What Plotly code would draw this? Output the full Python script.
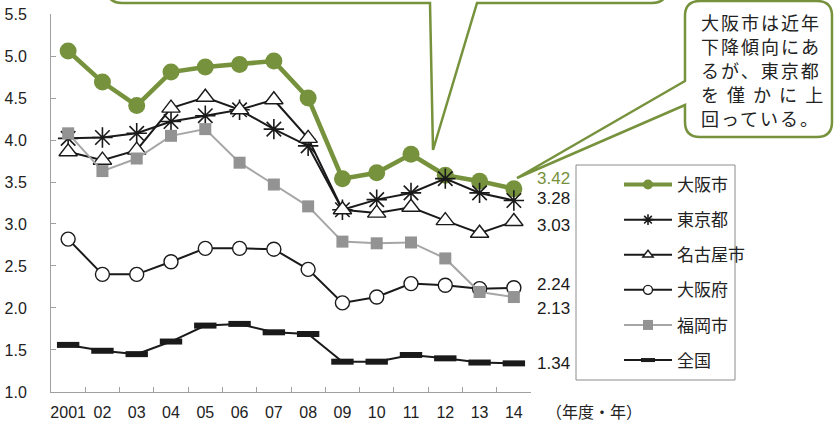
import plotly.graph_objects as go

# Categories (fiscal year / calendar year)
years = ["2001", "02", "03", "04", "05", "06", "07", "08", "09", "10", "11", "12", "13", "14"]

# Series values
osaka_city = [5.06, 4.69, 4.41, 4.81, 4.87, 4.90, 4.94, 4.50, 3.54, 3.61, 3.83, 3.58, 3.51, 3.42]
tokyo = [4.02, 4.03, 4.08, 4.22, 4.29, 4.36, 4.13, 3.93, 3.17, 3.29, 3.37, 3.54, 3.37, 3.28]
nagoya = [3.86, 3.76, 3.88, 4.38, 4.51, 4.36, 4.48, 4.02, 3.17, 3.13, 3.20, 3.04, 2.89, 3.03]
osaka_pref = [2.82, 2.40, 2.40, 2.55, 2.71, 2.71, 2.70, 2.46, 2.06, 2.13, 2.29, 2.27, 2.23, 2.24]
fukuoka = [4.08, 3.63, 3.78, 4.05, 4.13, 3.73, 3.47, 3.21, 2.79, 2.77, 2.78, 2.59, 2.19, 2.13]
national = [1.56, 1.49, 1.45, 1.60, 1.79, 1.81, 1.71, 1.69, 1.36, 1.36, 1.44, 1.40, 1.35, 1.34]

names = ["大阪市", "東京都", "名古屋市", "大阪府", "福岡市", "全国"]
y_ticks = [1.0, 1.5, 2.0, 2.5, 3.0, 3.5, 4.0, 4.5, 5.0, 5.5]

callout_lines = ["大阪市は近年", "下降傾向にあ", "るが、東京都", "を 僅 か に 上", "回っている。"]

GREEN = "#76923C"
BLACK = "#1A1A1A"
GRAY_LINE = "#A6A6A6"
GRAY_MARK = "#939393"
AXIS = "#A0A0A0"
TEXT = "#222222"
NUM_FONT = "Liberation Sans, Arial, sans-serif"
CJK_FONT = "Noto Sans CJK JP, sans-serif"

W, H = 834, 423
ML, MR, MT, MB = 51, 303, 14, 31
PW, PH = W - ML - MR, H - MT - MB


def px(x):
    return (x - ML) / PW


def py(y):
    return (H - MB - y) / PH


def P(x, y):
    return f"{px(x):.5f},{py(y):.5f}"


styles = [
    dict(line=dict(color=GREEN, width=4.5),
         marker=dict(symbol="circle", size=17, color=GREEN),
         lmarker=dict(symbol="circle", size=10, color=GREEN), lw=4),
    dict(line=dict(color=BLACK, width=2),
         marker=dict(symbol="asterisk-open", size=17, color=BLACK, line=dict(color=BLACK, width=1.6)),
         lmarker=dict(symbol="asterisk-open", size=9, color=BLACK, line=dict(color=BLACK, width=1.6)), lw=2),
    dict(line=dict(color=BLACK, width=2),
         marker=dict(symbol="triangle-up", size=16, color="white", line=dict(color=BLACK, width=1.4)),
         lmarker=dict(symbol="triangle-up", size=9, color="white", line=dict(color=BLACK, width=1.4)), lw=2),
    dict(line=dict(color=BLACK, width=2),
         marker=dict(symbol="circle", size=14, color="white", line=dict(color=BLACK, width=1.4)),
         lmarker=dict(symbol="circle", size=9, color="white", line=dict(color=BLACK, width=1.4)), lw=2),
    dict(line=dict(color=GRAY_LINE, width=2),
         marker=dict(symbol="square", size=12, color=GRAY_MARK),
         lmarker=dict(symbol="square", size=10, color=GRAY_MARK), lw=2),
    dict(line=dict(color=BLACK, width=2),
         marker=dict(symbol="line-ew", size=16, color=BLACK, line=dict(color=BLACK, width=6)),
         lmarker=dict(symbol="line-ew", size=10, color=BLACK, line=dict(color=BLACK, width=4)), lw=2),
]

series = [osaka_city, tokyo, nagoya, osaka_pref, fukuoka, national]

fig = go.Figure()
for name, vals, st in zip(names, series, styles):
    fig.add_trace(go.Scatter(
        x=years, y=vals, mode="lines+markers", name=name,
        line=st["line"], marker=st["marker"], showlegend=False, cliponaxis=False,
    ))

# Legend entries with compact symbols
for i, (name, st) in enumerate(zip(names, styles)):
    fig.add_trace(go.Scatter(
        x=[None], y=[None], mode="lines+markers", name=name,
        line=dict(color=st["line"]["color"], width=st["lw"]), marker=st["lmarker"],
        legendgroup=f"g{i}", showlegend=True,
    ))

# End-of-line value labels
last = len(years) - 1
label_shift = [10, 1.5, -4.5, 3, -11, 0]
label_color = [GREEN, BLACK, BLACK, BLACK, BLACK, BLACK]
for vals, dy, col in zip(series, label_shift, label_color):
    fig.add_annotation(x=last, y=vals[-1], xref="x", yref="y", text=f"{vals[-1]:.2f}",
                       showarrow=False, xanchor="left", yanchor="middle", xshift=21, yshift=dy,
                       font=dict(family=NUM_FONT, size=17, color=col))

# Unit label on the x axis
fig.add_annotation(x=px(544), y=py(411), xref="paper", yref="paper", text="（年度・年）",
                   showarrow=False, xanchor="left", yanchor="middle",
                   font=dict(family=CJK_FONT, size=16, color=TEXT))

# Legend frame
fig.add_shape(type="rect", xref="paper", yref="paper",
              x0=px(576), x1=px(735), y0=py(165), y1=py(380),
              line=dict(color="#8C8C8C", width=1), fillcolor="rgba(0,0,0,0)", layer="above")

# Upper callout box (mostly above the chart) with its pointer
box1 = ("M " + P(477, 3) + " L " + P(652, 3) + " Q " + P(667, 3) + " " + P(667, -12) +
        " L " + P(667, -40) + " L " + P(107, -40) + " L " + P(107, -12) +
        " Q " + P(107, 3) + " " + P(122, 3) + " L " + P(430, 3) + " L " + P(433, 150) + " Z")
fig.add_shape(type="path", path=box1, xref="paper", yref="paper",
              line=dict(color=GREEN, width=2.5), fillcolor="white", layer="above")

# Right callout box with its pointer
box2 = ("M " + P(685, 81) + " L " + P(517, 178) + " L " + P(685, 105) + " L " + P(685, 122) +
        " Q " + P(685, 137) + " " + P(700, 137) + " L " + P(817, 137) +
        " Q " + P(832, 137) + " " + P(832, 122) + " L " + P(832, 16) +
        " Q " + P(832, 1) + " " + P(817, 1) + " L " + P(700, 1) +
        " Q " + P(685, 1) + " " + P(685, 16) + " Z")
fig.add_shape(type="path", path=box2, xref="paper", yref="paper",
              line=dict(color=GREEN, width=2.5), fillcolor="white", layer="above")

# Callout text, one line per annotation
for i, s in enumerate(callout_lines):
    fig.add_annotation(x=px(699), y=py(22 + 24 * i), xref="paper", yref="paper",
                       text=f'<span style="letter-spacing:2px">{s}</span>',
                       showarrow=False, xanchor="left", yanchor="middle", align="left",
                       font=dict(family=CJK_FONT, size=18, color=TEXT))

fig.update_layout(
    width=W, height=H,
    margin=dict(l=ML, r=MR, t=MT, b=MB, autoexpand=False),
    paper_bgcolor="white", plot_bgcolor="white",
    font=dict(family=NUM_FONT, size=16, color=TEXT),
    showlegend=True,
    legend=dict(
        x=px(619), y=py(167), xanchor="left", yanchor="top",
        borderwidth=0, bgcolor="rgba(0,0,0,0)",
        font=dict(family=CJK_FONT, size=17, color=TEXT),
        tracegroupgap=10, itemwidth=48,
    ),
    xaxis=dict(
        type="category", range=[-0.5, len(years) - 0.5], automargin=False,
        showline=True, linecolor=AXIS, linewidth=1,
        ticks="inside", ticklen=5, tickcolor=AXIS, tickson="boundaries",
        showgrid=False, zeroline=False, tickangle=0, ticklabelstandoff=6,
        tickfont=dict(family=NUM_FONT, size=16, color=TEXT),
    ),
    yaxis=dict(
        range=[0.999, 5.501], tickvals=y_ticks, tickformat=".1f", automargin=False,
        showline=True, linecolor=AXIS, linewidth=1,
        ticks="inside", ticklen=5, tickcolor=AXIS,
        showgrid=False, zeroline=False, ticklabelstandoff=20,
        tickfont=dict(family=NUM_FONT, size=16, color=TEXT),
    ),
)

fig.write_html("out.html")
